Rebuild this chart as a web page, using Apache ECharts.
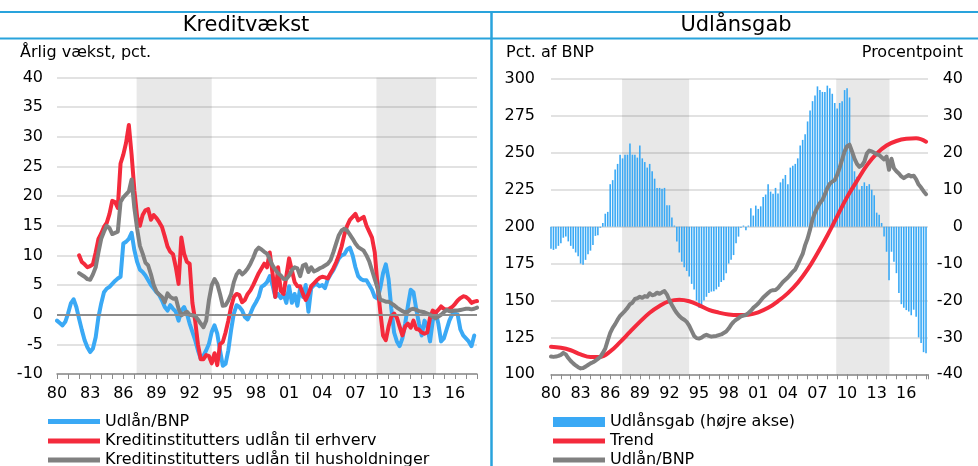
<!DOCTYPE html>
<html>
<head>
<meta charset="utf-8">
<script src="https://cdn.jsdelivr.net/npm/echarts@6/dist/echarts.min.js"></script>
<style>
html, body { margin: 0; padding: 0; background: #fff; }
#chart { width: 978px; height: 466px; }
</style>
</head>
<body>
<div id="chart"></div>
<script>
// Kreditvækst, kvartalsdata (aflæst), årlig vækst i pct.
const udlaanBnpVaekst = [ // 1980K1 - 2017K4
  -1.0, -1.4, -1.8, -1.2,  0.2, 1.9, 2.6, 1.3,  -0.7, -2.6, -4.3, -5.5,  -6.3, -5.7, -3.8, -0.4,
  1.9, 3.8, 4.4, 4.7,  5.2, 5.7, 6.1, 6.4,  12.0, 12.3, 12.8, 13.8,  10.9, 8.9, 7.6, 7.2,
  6.6, 5.8, 5.0, 4.4,  3.8, 3.3, 2.4, 1.3,  0.7, 1.6, 1.0, 0.5,  -1.0, 0.7, 1.3, 0.2,
  -1.5, -2.9, -4.3, -6.0,  -7.4, -6.9, -6.0, -4.9,  -2.9, -1.8, -3.2, -6.0,  -8.6, -8.3, -6.0, -2.6,
  0.2, 1.6, 1.3, 0.7,  -0.4, -0.8, 0.2, 1.3,  2.1, 3.0, 4.7, 5.0,  5.5, 6.5, 5.0, 3.0,
  3.5, 2.8, 3.5, 2.0,  4.8, 2.0, 3.5, 1.5,  4.5, 3.0, 5.0, 0.5,  4.5, 5.0, 5.2, 4.8,
  5.0, 4.5, 6.0, 6.8,  7.5, 8.5, 9.5, 10.0,  10.2, 11.0, 11.3, 10.0,  8.0, 6.5, 6.0, 5.8,
  5.8, 5.0, 4.2, 3.0,  2.7, 4.5, 7.0, 8.5,  6.0, 1.0, -3.0, -4.5,  -5.3, -4.0, -1.5, 1.5,
  4.2, 3.8, 1.0, -1.5,  -3.5, -1.0, -2.0, -4.5,  -1.0, 0.5, -1.5, -4.5,  -4.0, -2.5, -1.0, 0.0,
  0.2, 0.0, -2.5, -3.5,  -4.0, -4.5, -5.3, -3.5
];
const erhvervVaekst = [ // 1982K1 - 2018K1
  10.0, 8.9, 8.5, 8.0,  8.2, 8.5, 10.5, 12.8,  13.7, 14.8, 15.5, 17.0,  19.2, 19.0, 18.0, 25.5,
  27.0, 29.0, 32.0, 27.0,  21.0, 16.5, 15.0, 16.8,  17.6, 17.8, 16.0, 16.8,  16.3, 15.6, 14.8, 13.2,
  11.5, 10.6, 10.2, 8.0,  5.2, 13.0, 10.3, 8.9,  8.6, 2.0, -1.0, -5.0,  -7.5, -7.5, -6.8, -7.0,
  -8.2, -6.5, -8.5, -5.0,  -4.6, -3.0, -1.0, 1.3,  3.0, 3.5, 3.3, 2.1,  2.5, 3.5, 4.1, 5.0,
  6.0, 7.0, 7.8, 8.6,  8.0, 10.5, 7.0, 3.0,  8.0, 4.0, 3.5, 6.5,  9.5, 7.5, 5.5, 4.8,
  4.8, 3.5, 2.5, 3.5,  4.8, 5.3, 5.8, 6.2,  6.4, 6.3, 6.1, 7.0,  7.8, 8.8, 10.0, 11.5,
  13.5, 15.0, 16.0, 16.5,  17.0, 15.9, 16.2, 16.5,  15.0, 14.0, 13.0, 10.5,  5.0, 0.5, -3.5, -4.3,
  -2.0, -0.3, 0.2, -0.5,  -2.0, -3.5, -2.0, -1.5,  -2.2, -1.0, -2.4, -2.5,  -3.0, -3.2, -3.0, -0.5,
  0.7, 0.3, 0.8, 1.4,  1.0, 0.8, 1.0, 1.3,  1.8, 2.4, 2.8, 3.1,  3.0, 2.6, 2.0, 2.2,
  2.3
];
const husholdVaekst = [ // 1982K1 - 2018K1
  7.0, 6.7, 6.4, 6.0,  5.9, 6.8, 8.0, 10.5,  12.8, 14.0, 15.0, 14.6,  13.6, 13.8, 14.0, 19.0,
  19.8, 20.3, 20.8, 22.8,  18.0, 14.5, 11.6, 10.3,  8.8, 8.3, 6.8, 5.0,  3.9, 3.4, 3.0, 2.1,
  3.6, 3.0, 2.7, 2.8,  1.0, -0.1, 0.2, 0.5,  0.0, -0.1, -0.2, -0.8,  -1.5, -2.1, -1.0, 2.5,
  5.0, 6.0, 5.2, 3.5,  1.5, 1.6, 2.4, 3.5,  5.5, 6.8, 7.4, 6.8,  7.2, 7.8, 8.6, 9.6,
  10.8, 11.3, 11.0, 10.6,  10.3, 9.4, 8.3, 7.6,  7.0, 6.6, 6.0, 6.0,  6.6, 7.5, 8.0, 7.8,
  6.5, 8.3, 8.5, 7.2,  8.0, 7.3, 7.5, 7.8,  8.0, 8.3, 8.6, 9.2,  10.5, 12.0, 13.4, 14.2,
  14.5, 14.2, 13.5, 12.8,  12.0, 11.4, 11.1, 10.8,  10.0, 9.0, 7.5, 6.0,  4.5, 2.5, 2.4, 2.2,
  2.2, 1.9, 1.6, 1.2,  0.9, 0.6, 0.4, 0.5,  0.9, 1.0, 0.8, 0.6,  0.5, 0.4, 0.2, 0.0,
  -0.3, -0.6, -0.3, 0.0,  0.4, 0.8, 0.6, 0.6,  0.7, 0.7, 0.8, 0.9,  1.0, 1.0, 0.9, 1.0,
  1.2
];

// Udlånsgab
const udlaansgab = [ // procentpoint, 1980K1 - 2018K1
  -6.0, -6.3, -6.0, -5.2,  -4.5, -3.0, -2.7, -4.0,  -5.2, -6.0, -7.0, -8.0,  -10.0, -10.3, -9.0, -7.5,
  -6.5, -5.0, -2.5, -2.3,  -0.3, 1.0, 3.5, 4.0,  11.5, 12.6, 15.5, 17.0,  19.5, 18.5, 19.5, 19.5,
  22.5, 19.5, 19.5, 18.7,  22.0, 18.5, 17.5, 16.0,  17.0, 15.0, 13.0, 10.5,  10.5, 10.3, 10.5, 5.8,
  5.8, 2.5, 0.3, -4.0,  -7.0, -9.5, -11.0, -12.0,  -13.5, -15.5, -17.0, -20.0,  -22.0, -21.5, -20.0, -19.0,
  -18.0, -17.6, -17.5, -17.0,  -16.3, -15.0, -14.5, -12.6,  -10.0, -9.0, -7.7, -4.5,  -2.7, -0.3, 0.3, -1.0,
  0.3, 5.0, 3.0, 5.7,  4.8, 5.5, 8.0, 8.7,  11.5, 9.5, 8.9, 10.5,  9.0, 12.0, 13.0, 14.0,
  11.5, 16.0, 16.5, 17.0,  18.5, 22.0, 23.5, 25.0,  28.5, 31.5, 34.0, 35.5,  38.0, 37.0, 36.5, 36.5,
  38.2, 37.5, 36.0, 33.5,  32.0, 33.5, 34.0, 37.0,  37.5, 35.0, 21.0, 15.0,  13.5, 10.0, 11.0, 12.0,
  11.0, 11.5, 10.0, 8.5,  3.8, 3.2, 1.0, -2.7,  -6.8, -14.5, -6.8, -9.5,  -12.6, -18.0, -21.0, -22.0,
  -22.6, -23.0, -24.0, -22.5,  -24.4, -30.0, -31.5, -34.0,  -34.3
];
const udlaanBnpNiveau = [ // pct. af BNP, 1980K1 - 2018K1
  112.0, 111.8, 112.0, 112.5,  113.2, 114.5, 113.5, 111.0,  109.0, 107.4, 106.0, 104.8,  104.0, 104.3, 105.2, 106.3,
  107.4, 108.2, 109.2, 110.5,  111.8, 114.5, 117.5, 123.0,  128.0, 131.5, 134.0, 137.0,  139.5, 141.3, 143.0, 145.0,
  147.5, 148.5, 151.0, 151.5,  152.5, 151.8, 153.0, 152.5,  154.9, 153.5, 154.0, 155.3,  154.5, 155.5, 156.4, 154.0,
  150.0, 147.0, 144.0, 141.5,  139.5, 138.0, 137.0, 135.5,  133.0, 129.5, 126.0, 124.5,  124.2, 124.8, 126.0, 126.8,
  126.0, 125.5, 125.8, 126.0,  126.5, 127.0, 128.0, 129.0,  131.0, 133.5, 135.5, 137.0,  138.0, 139.2, 139.8, 140.2,
  141.5, 143.0, 145.0, 146.5,  148.0, 150.0, 152.0, 153.5,  155.0, 156.5, 157.0, 157.1,  158.5, 160.5, 162.5, 164.0,
  165.5, 167.5, 169.5, 171.0,  174.5, 178.0, 181.5, 187.5,  192.0, 198.0, 205.0, 209.5,  213.0, 216.0, 218.0, 222.0,
  226.0, 229.0, 230.5, 231.5,  235.0, 240.0, 245.5, 251.0,  254.5, 255.5, 251.0, 246.0,  242.5, 240.5, 241.5, 244.0,
  249.5, 251.5, 251.0, 250.0,  249.0, 248.5, 247.0, 245.5,  247.5, 238.5, 246.0, 239.5,  237.5, 236.0, 234.0, 232.8,
  234.0, 235.0, 234.0, 234.5,  232.0, 228.5, 226.5, 224.0,  222.0
];
const trend = [ // pct. af BNP, årlig 1980 - 2018
  118.7, 118.0, 116.3, 113.5, 111.7, 111.8, 115.5, 121.8, 128.7, 135.5,
  141.7, 146.3, 149.5, 150.5, 149.5, 146.8, 143.6, 141.8, 140.5, 140.1,
  140.4, 142.0, 145.0, 149.5, 155.0, 162.0, 171.0, 182.0, 194.0, 207.0,
  220.0, 231.0, 241.5, 249.5, 255.0, 258.0, 259.5, 259.8, 257.5
];

// gråtonede perioder (år)
const perioder = [[1987.2, 1994.0], [2008.9, 2014.3]];

const font = '"DejaVu Sans", Verdana, sans-serif';
const blaa = '#3aa9f5', roed = '#f42a3c', graa = '#808080', linjeBlaa = '#29a3dc';

function kvartaler(start, values) {
  return values.map((v, i) => [start + i / 4, v]);
}
function aarlig(start, values) {
  return values.map((v, i) => [start + i, v]);
}
function aarLabel(v) {
  if (Math.abs(v - Math.round(v)) > 1e-6) return '';
  v = Math.round(v);
  return (v - 1980) % 3 === 0 ? String(v).slice(2) : '';
}

const skygge = perioder.map(p => [{ xAxis: p[0] }, { xAxis: p[1] }]);

function xAkse(grid, max) {
  return {
    type: 'value', gridIndex: grid, min: 1980, max: max, interval: 1,
    axisLine: { onZero: false, lineStyle: { color: '#8c8c8c', width: 1.5 } },
    axisTick: { length: 5, lineStyle: { color: '#8c8c8c', width: 1 } },
    axisLabel: { formatter: aarLabel, margin: 12, color: '#000', fontSize: 16, fontFamily: font },
    splitLine: { show: false }
  };
}

// én legende pr. linje, så intet brydes om i kolonner
function legende(name, left, top, h) {
  return {
    left: left, top: top, orient: 'vertical', icon: 'rect', itemWidth: 52, itemHeight: h,
    padding: 0, selectedMode: false,
    textStyle: { color: '#000', fontSize: 16, fontFamily: font, lineHeight: 17 },
    data: [name]
  };
}

const chart = echarts.init(document.getElementById('chart'), null, { renderer: 'canvas' });

const linje = (name, color, x, y, data, extra) => Object.assign({
  name: name, type: 'line', xAxisIndex: x, yAxisIndex: y, data: data,
  symbol: 'none', showSymbol: false, z: 3,
  itemStyle: { color: color },
  lineStyle: { color: color, width: 4, join: 'round', cap: 'round' },
  emphasis: { disabled: true }
}, extra || {});

chart.setOption({
  animation: false,
  textStyle: { fontFamily: font },
  grid: [
    { left: 57, top: 77.5, width: 420, height: 296.5 },
    { left: 551, top: 79, width: 377, height: 295.3 }
  ],
  xAxis: [xAkse(0, 2018), xAkse(1, 2018.2)],
  yAxis: [
    {
      type: 'value', gridIndex: 0, min: -10, max: 40, interval: 5,
      axisLine: { show: false }, axisTick: { show: false },
      axisLabel: { color: '#000', fontSize: 16, fontFamily: font, margin: 14 },
      splitLine: { lineStyle: { color: '#d9d9d9', width: 1.5 } }
    },
    {
      type: 'value', gridIndex: 1, min: 100, max: 300, interval: 25, position: 'left',
      axisLine: { show: false }, axisTick: { show: false },
      axisLabel: { color: '#000', fontSize: 16, fontFamily: font, margin: 16 },
      splitLine: { lineStyle: { color: '#d9d9d9', width: 1.5 } }
    },
    {
      type: 'value', gridIndex: 1, min: -40, max: 40, interval: 10, position: 'right',
      axisLine: { show: false }, axisTick: { show: false },
      axisLabel: { color: '#000', fontSize: 16, fontFamily: font, margin: 35, align: 'right' },
      splitLine: { show: false }
    }
  ],
  legend: [
    legende('Udlån/BNP', 48, 413, 5),
    legende('Kreditinstitutters udlån til erhverv', 48, 432.5, 5),
    legende('Kreditinstitutters udlån til husholdninger', 48, 451.5, 5),
    legende('Udlånsgab (højre akse)', 553, 413.5, 10),
    legende('Trend', 553, 432.5, 5),
    legende('Udlån/BNP ', 553, 451.5, 5)
  ],
  graphic: [
    { type: 'line', shape: { x1: 0, y1: 12, x2: 978, y2: 12 }, style: { stroke: linjeBlaa, lineWidth: 2 } },
    { type: 'line', shape: { x1: 0, y1: 38.5, x2: 978, y2: 38.5 }, style: { stroke: linjeBlaa, lineWidth: 2 } },
    { type: 'line', shape: { x1: 491.5, y1: 12, x2: 491.5, y2: 466 }, style: { stroke: linjeBlaa, lineWidth: 2.5 } },
    { type: 'text', x: 246, y: 26, style: { text: 'Kreditvækst', font: '21px ' + font, textAlign: 'center', textVerticalAlign: 'middle', fill: '#000' } },
    { type: 'text', x: 736, y: 26, style: { text: 'Udlånsgab', font: '21px ' + font, textAlign: 'center', textVerticalAlign: 'middle', fill: '#000' } },
    { type: 'text', x: 20, y: 53, style: { text: 'Årlig vækst, pct.', font: '16px ' + font, textAlign: 'left', textVerticalAlign: 'middle', fill: '#000' } },
    { type: 'text', x: 506, y: 53, style: { text: 'Pct. af BNP', font: '16px ' + font, textAlign: 'left', textVerticalAlign: 'middle', fill: '#000' } },
    { type: 'text', x: 963, y: 53, style: { text: 'Procentpoint', font: '16px ' + font, textAlign: 'right', textVerticalAlign: 'middle', fill: '#000' } }
  ],
  series: [
    // baggrund venstre: skygge og nul-linje
    {
      type: 'line', xAxisIndex: 0, yAxisIndex: 0, data: [], z: 1, silent: true,
      markArea: { silent: true, itemStyle: { color: 'rgba(0,0,0,0.09)' }, data: skygge },
      markLine: { silent: true, symbol: 'none', label: { show: false },
        lineStyle: { color: '#8c8c8c', width: 2, type: 'solid' }, data: [{ yAxis: 0 }] }
    },
    // baggrund højre
    {
      type: 'line', xAxisIndex: 1, yAxisIndex: 1, data: [], z: 1, silent: true,
      markArea: { silent: true, itemStyle: { color: 'rgba(0,0,0,0.09)' }, data: skygge }
    },
    linje('Udlån/BNP', blaa, 0, 0, kvartaler(1980, udlaanBnpVaekst)),
    linje('Kreditinstitutters udlån til erhverv', roed, 0, 0, kvartaler(1982, erhvervVaekst)),
    linje('Kreditinstitutters udlån til husholdninger', graa, 0, 0, kvartaler(1982, husholdVaekst)),
    {
      name: 'Udlånsgab (højre akse)', type: 'bar', xAxisIndex: 1, yAxisIndex: 2,
      data: kvartaler(1980, udlaansgab), barWidth: 1.6, z: 2,
      itemStyle: { color: blaa }, emphasis: { disabled: true }
    },
    linje('Trend', roed, 1, 1, aarlig(1980, trend), { smooth: 0.4 }),
    linje('Udlån/BNP ', graa, 1, 1, kvartaler(1980, udlaanBnpNiveau))
  ]
});
</script>
</body>
</html>
